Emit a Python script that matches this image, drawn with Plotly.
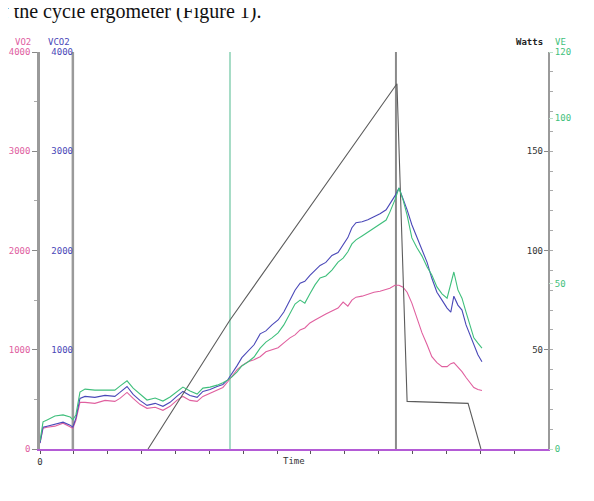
import plotly.graph_objects as go

# ---- data ----
time_min = [0.00, 0.09, 0.21, 0.44, 0.68, 0.89, 0.97, 1.06, 1.18, 1.33,
            1.62, 1.92, 2.21, 2.36, 2.57, 2.75, 2.95, 3.16, 3.40, 3.63,
            3.84, 4.04, 4.22, 4.43, 4.64, 4.81, 5.02, 5.23, 5.40, 5.55,
            5.67, 5.82, 5.96, 6.14, 6.32, 6.50, 6.67, 6.85, 7.03, 7.20,
            7.38, 7.53, 7.68, 7.82, 7.97, 8.12, 8.27, 8.44, 8.62, 8.80,
            8.95, 9.09, 9.21, 9.33, 9.51, 9.68, 9.86, 10.04, 10.22, 10.33,
            10.48, 10.60, 10.72, 10.84, 10.98, 11.13, 11.28, 11.43, 11.57, 11.72,
            11.87, 12.02, 12.13, 12.22, 12.34, 12.46, 12.58, 12.70, 12.81, 12.93,
            13.05]

vco2 = [60, 220, 230, 250, 270, 240, 220, 310, 510, 530,
        520, 540, 530, 570, 630, 550, 490, 440, 460, 430,
        470, 530, 580, 540, 520, 580, 600, 630, 650, 700,
        760, 840, 920, 980, 1050, 1160, 1190, 1250, 1300, 1380,
        1500, 1600, 1670, 1690, 1750, 1800, 1850, 1880, 1950, 1980,
        2060, 2130, 2230, 2280, 2290, 2310, 2340, 2370, 2410, 2470,
        2550, 2630, 2530, 2410, 2260, 2130, 2010, 1880, 1720, 1580,
        1500, 1420, 1380, 1540, 1450, 1400, 1250, 1150, 1050, 950,
        880]

vo2 = [60, 210, 220, 230, 260, 220, 210, 290, 470, 470,
       460, 490, 480, 510, 570, 510, 450, 410, 420, 390,
       430, 490, 530, 490, 480, 530, 560, 590, 620, 680,
       730, 800, 840, 880, 900, 930, 980, 1000, 1020, 1070,
       1120, 1150, 1200, 1220, 1270, 1300, 1330, 1360, 1390, 1420,
       1480, 1440, 1500, 1530, 1540, 1560, 1580, 1590, 1610, 1620,
       1650, 1650, 1630, 1580, 1470, 1320, 1170, 1050, 930, 870,
       830, 830, 860, 870, 830, 780, 720, 670, 620, 600,
       590]

ve = [2.4, 8.2, 8.8, 10.0, 10.3, 9.7, 8.8, 10.3, 17.2, 18.1,
      17.8, 17.8, 17.8, 19.0, 20.6, 18.4, 16.6, 14.8, 15.4, 14.5,
      15.7, 17.2, 18.7, 17.5, 16.6, 18.4, 18.7, 19.3, 20.0, 20.9,
      21.8, 23.3, 25.1, 26.3, 27.8, 30.5, 32.3, 33.6, 35.1, 37.5,
      41.1, 43.8, 45.0, 44.1, 46.9, 49.6, 51.7, 52.3, 54.1, 56.5,
      57.7, 59.6, 62.0, 63.2, 64.4, 65.6, 66.8, 68.0, 69.2, 71.6,
      75.3, 78.9, 75.3, 70.7, 63.8, 60.8, 58.3, 55.0, 52.6, 49.0,
      46.9, 45.6, 50.2, 53.5, 48.1, 45.6, 41.4, 37.5, 33.6, 32.0,
      30.5]

watts_time = [3.19, 5.61, 10.54, 10.84, 12.64, 13.02]
watts = [0, 65, 184, 24, 23, 0]

event_times = [0.97, 5.61, 10.51]

x_ticks = list(range(0, 16))
x_ticktext = ["0"] + [""] * 14 + ["15"]
vo2_ticks = [0, 1000, 2000, 3000, 4000]
vco2_ticks = [1000, 2000, 3000, 4000]
watts_ticks = [50, 100, 150, 200]
ve_ticks = [0, 50, 100, 120]

# ---- style ----
PINK = "#e0609f"
BLUE = "#4a48b8"
GREEN = "#3fbf7c"
GRAYL = "#5c5c5c"
VIOLET = "#b45bd6"
MONO = "DejaVu Sans Mono"

fig = go.Figure()
fig.add_trace(go.Scatter(x=time_min, y=ve, mode="lines", line=dict(color=GREEN, width=1.1),
                         yaxis="y4", name="VE"))
fig.add_trace(go.Scatter(x=time_min, y=vco2, mode="lines", line=dict(color=BLUE, width=1.1),
                         yaxis="y2", name="VCO2"))
fig.add_trace(go.Scatter(x=time_min, y=vo2, mode="lines", line=dict(color=PINK, width=1.1),
                         yaxis="y", name="VO2"))
fig.add_trace(go.Scatter(x=watts_time, y=watts, mode="lines", line=dict(color=GRAYL, width=1.1),
                         yaxis="y3", name="Watts"))

shape_colors = ["#9a9a9a", "#a6dcc6", "#8a8a8a"]
shape_widths = [2.5, 2, 2]
for t, c, w in zip(event_times, shape_colors, shape_widths):
    fig.add_shape(type="line", xref="x", yref="paper", x0=t, x1=t, y0=0, y1=1,
                  line=dict(color=c, width=w), layer="below")

fig.update_layout(
    width=594, height=501,
    margin=dict(l=32, r=54, t=44, b=60),
    paper_bgcolor="white", plot_bgcolor="white",
    showlegend=False,
    xaxis=dict(range=[0, 15], tickvals=x_ticks, ticktext=x_ticktext, showgrid=False,
               zeroline=False, showline=True, linecolor=VIOLET, linewidth=2,
               ticks="outside", ticklen=3, tickcolor="#555555",
               tickfont=dict(family=MONO, size=9, color="#333333"), automargin=False),
    yaxis=dict(range=[0, 4000], tickvals=vo2_ticks, showgrid=False, zeroline=False,
               showline=True, linecolor="#9a9a9a", linewidth=2.5,
               ticks="outside", ticklen=5, tickcolor="#888888",
               minor=dict(dtick=500, ticks="outside", ticklen=3, tickcolor="#aaaaaa"),
               tickfont=dict(family=MONO, size=9, color=PINK), automargin=False),
    yaxis2=dict(range=[0, 4000], tickvals=vco2_ticks, overlaying="y", anchor="free",
                position=33 / 508, side="left", showgrid=False, zeroline=False,
                showline=False, ticks="", ticklabelstandoff=0,
                tickfont=dict(family=MONO, size=9, color=BLUE), automargin=False),
    yaxis3=dict(range=[0, 200], tickvals=watts_ticks, overlaying="y", side="right",
                anchor="x", showgrid=False, zeroline=False, showline=True,
                linecolor="#9a9a9a", linewidth=1.5, ticks="inside", ticklen=4,
                tickcolor="#888888", ticklabelposition="inside",
                minor=dict(dtick=10, ticks="outside", ticklen=3, tickcolor="#aaaaaa"),
                tickfont=dict(family=MONO, size=9, color="#333333"), automargin=False),
    yaxis4=dict(range=[0, 120], tickvals=ve_ticks, overlaying="y", side="right",
                anchor="free", position=1, showgrid=False, zeroline=False,
                showline=False, ticks="outside", ticklen=4, tickcolor="#b8e0c8",
                tickfont=dict(family=MONO, size=9, color=GREEN), automargin=False),
)

ann = [
    dict(text="VO2", x=-7 / 508, y=1.0, xanchor="right", yanchor="bottom", yshift=3,
         font=dict(family=MONO, size=9, color=PINK)),
    dict(text="VCO2", x=32 / 508, y=1.0, xanchor="right", yanchor="bottom", yshift=3,
         font=dict(family=MONO, size=9, color=BLUE)),
    dict(text="<b>Watts</b>", x=505 / 508, y=1.0, xanchor="right", yanchor="bottom", yshift=3,
         font=dict(family=MONO, size=9, color="#222222")),
    dict(text="VE", x=513 / 508, y=1.0, xanchor="left", yanchor="bottom", yshift=3,
         font=dict(family=MONO, size=9, color=GREEN)),
    dict(text="Time", x=0.5, y=-0.012, xanchor="center", yanchor="top",
         font=dict(family=MONO, size=9, color="#333333")),
    dict(text="f the cycle ergometer (Figure 1).", x=-40 / 508, y=(449 - 19) / 397,
         xanchor="left", yanchor="bottom", yshift=-6,
         font=dict(family="Liberation Serif", size=20, color="#111111")),
]
for a in ann:
    a.update(xref="paper", yref="paper", showarrow=False)
    fig.add_annotation(**a)

fig.write_html("out.html")
